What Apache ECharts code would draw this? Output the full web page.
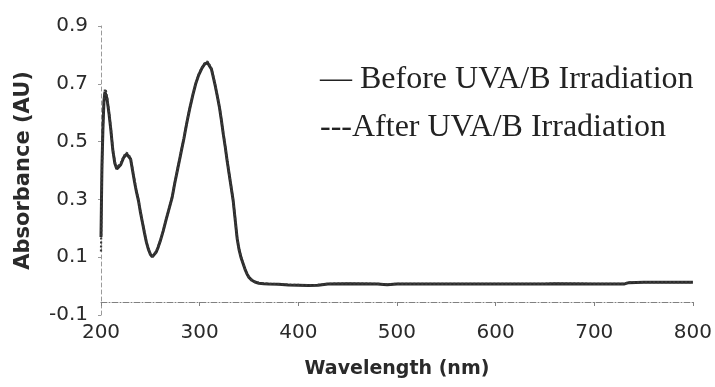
<!DOCTYPE html>
<html>
<head>
<meta charset="utf-8">
<script src="https://cdn.jsdelivr.net/npm/echarts@6/dist/echarts.min.js"></script>
<style>html,body{margin:0;padding:0;background:#fff;}#c{width:715px;height:387px;}</style>
</head>
<body>
<div id="c"></div>
<script>
var wavelengths = [200, 200.5, 201, 202, 203, 204, 205, 206, 208, 210, 212, 214, 216, 218, 220, 223, 226, 228, 230, 232, 234, 236, 238, 240, 242, 244, 246, 248, 250, 252, 254, 256, 258, 260, 263, 266, 268, 270, 272, 275, 278, 281, 284, 287, 290, 293, 296, 299, 302, 305, 308, 310, 312, 314, 316, 318, 320, 322, 324, 326, 328, 330, 332, 334, 336, 338, 340, 342, 344, 346, 348, 350, 353, 356, 360, 365, 370, 380, 390, 400, 410, 420, 430, 450, 480, 490, 500, 550, 600, 650, 660, 700, 730, 735, 750, 800];
var beforeUV = [0.17, 0.30, 0.42, 0.55, 0.64, 0.672, 0.668, 0.65, 0.60, 0.54, 0.47, 0.425, 0.405, 0.405, 0.42, 0.445, 0.457, 0.456, 0.44, 0.40, 0.36, 0.325, 0.295, 0.255, 0.22, 0.185, 0.152, 0.128, 0.11, 0.101, 0.105, 0.118, 0.135, 0.155, 0.19, 0.23, 0.255, 0.28, 0.305, 0.36, 0.41, 0.46, 0.51, 0.565, 0.615, 0.66, 0.70, 0.73, 0.752, 0.768, 0.773, 0.768, 0.75, 0.72, 0.69, 0.655, 0.62, 0.575, 0.525, 0.48, 0.43, 0.385, 0.34, 0.295, 0.23, 0.165, 0.125, 0.098, 0.078, 0.058, 0.042, 0.03, 0.02, 0.014, 0.01, 0.008, 0.007, 0.006, 0.004, 0.003, 0.002, 0.003, 0.007, 0.008, 0.007, 0.005, 0.007, 0.007, 0.007, 0.007, 0.008, 0.007, 0.007, 0.012, 0.013, 0.013];
var afterUV = [0.12, 0.28, 0.41, 0.55, 0.645, 0.682, 0.675, 0.655, 0.605, 0.545, 0.475, 0.43, 0.41, 0.41, 0.425, 0.45, 0.462, 0.46, 0.445, 0.405, 0.365, 0.33, 0.298, 0.258, 0.222, 0.187, 0.154, 0.13, 0.112, 0.103, 0.107, 0.12, 0.137, 0.157, 0.192, 0.232, 0.257, 0.282, 0.307, 0.362, 0.412, 0.462, 0.512, 0.567, 0.617, 0.662, 0.702, 0.732, 0.755, 0.771, 0.777, 0.771, 0.753, 0.723, 0.692, 0.657, 0.622, 0.577, 0.527, 0.482, 0.432, 0.387, 0.342, 0.297, 0.232, 0.167, 0.127, 0.1, 0.079, 0.059, 0.043, 0.031, 0.021, 0.015, 0.011, 0.009, 0.008, 0.007, 0.005, 0.004, 0.003, 0.004, 0.008, 0.009, 0.008, 0.006, 0.008, 0.008, 0.008, 0.008, 0.009, 0.008, 0.008, 0.013, 0.014, 0.014];
var seriesNames = ['Before UVA/B Irradiation', 'After UVA/B Irradiation'];
var legendPrefixes = ['— ', '---'];
var xTicks = {min: 200, max: 800, interval: 100};
var yTicks = {min: -0.1, max: 0.9, interval: 0.2};

function pairs(ys) { return wavelengths.map(function (x, i) { return [x, ys[i]]; }); }

var chart = echarts.init(document.getElementById('c'), null, {renderer: 'canvas'});
var axisFont = "'DejaVu Sans', sans-serif";
chart.setOption({
  backgroundColor: '#ffffff',
  animation: false,
  grid: {left: 101, right: 21, top: 26, bottom: 72},
  legend: {
    orient: 'vertical', left: 315, top: 62, padding: 0, itemGap: 12,
    itemWidth: 0, itemHeight: 0, icon: 'rect',
    itemStyle: {opacity: 0},
    data: seriesNames,
    formatter: function (name) { return legendPrefixes[seriesNames.indexOf(name)] + name; },
    textStyle: {fontFamily: "'Times New Roman', 'Liberation Serif', serif", fontSize: 32, lineHeight: 36, color: '#222222', padding: 0},
    selectedMode: false
  },
  xAxis: {
    type: 'value', min: xTicks.min, max: xTicks.max, interval: xTicks.interval,
    offset: -13,
    name: 'Wavelength (nm)', nameLocation: 'middle', nameGap: 58,
    nameTextStyle: {fontFamily: axisFont, fontWeight: 'bold', fontSize: 19, color: '#2a2a2a'},
    axisLine: {show: true, onZero: false, lineStyle: {color: '#808080', width: 1, type: [6, 2, 1, 2]}},
    axisTick: {show: true, length: 4, inside: false, lineStyle: {color: '#808080'}},
    axisLabel: {margin: 21, fontFamily: axisFont, fontSize: 20, color: '#2a2a2a'},
    splitLine: {show: false}
  },
  yAxis: {
    type: 'value', min: yTicks.min, max: yTicks.max, interval: yTicks.interval,
    name: 'Absorbance (AU)', nameLocation: 'middle', nameGap: 67,
    nameTextStyle: {fontFamily: axisFont, fontWeight: 'bold', fontSize: 21, color: '#2a2a2a'},
    axisLine: {show: true, lineStyle: {color: '#9a9a9a', width: 1, type: [4, 3]}},
    axisTick: {show: true, length: 3, lineStyle: {color: '#9a9a9a'}},
    axisLabel: {margin: 13, fontFamily: axisFont, fontSize: 20, color: '#2a2a2a', formatter: function (v) { return v.toFixed(1); }},
    splitLine: {show: false}
  },
  series: [
    {name: seriesNames[0], type: 'line', data: pairs(beforeUV), showSymbol: false, symbol: 'none', smooth: false,
     lineStyle: {color: '#2b2b2b', width: 3}, itemStyle: {color: '#2b2b2b'}},
    {name: seriesNames[1], type: 'line', data: pairs(afterUV), showSymbol: false, symbol: 'none', smooth: false,
     lineStyle: {color: '#3a3a3a', width: 2.2, type: [2, 2]}, itemStyle: {color: '#3a3a3a'}}
  ]
});
</script>
</body>
</html>
